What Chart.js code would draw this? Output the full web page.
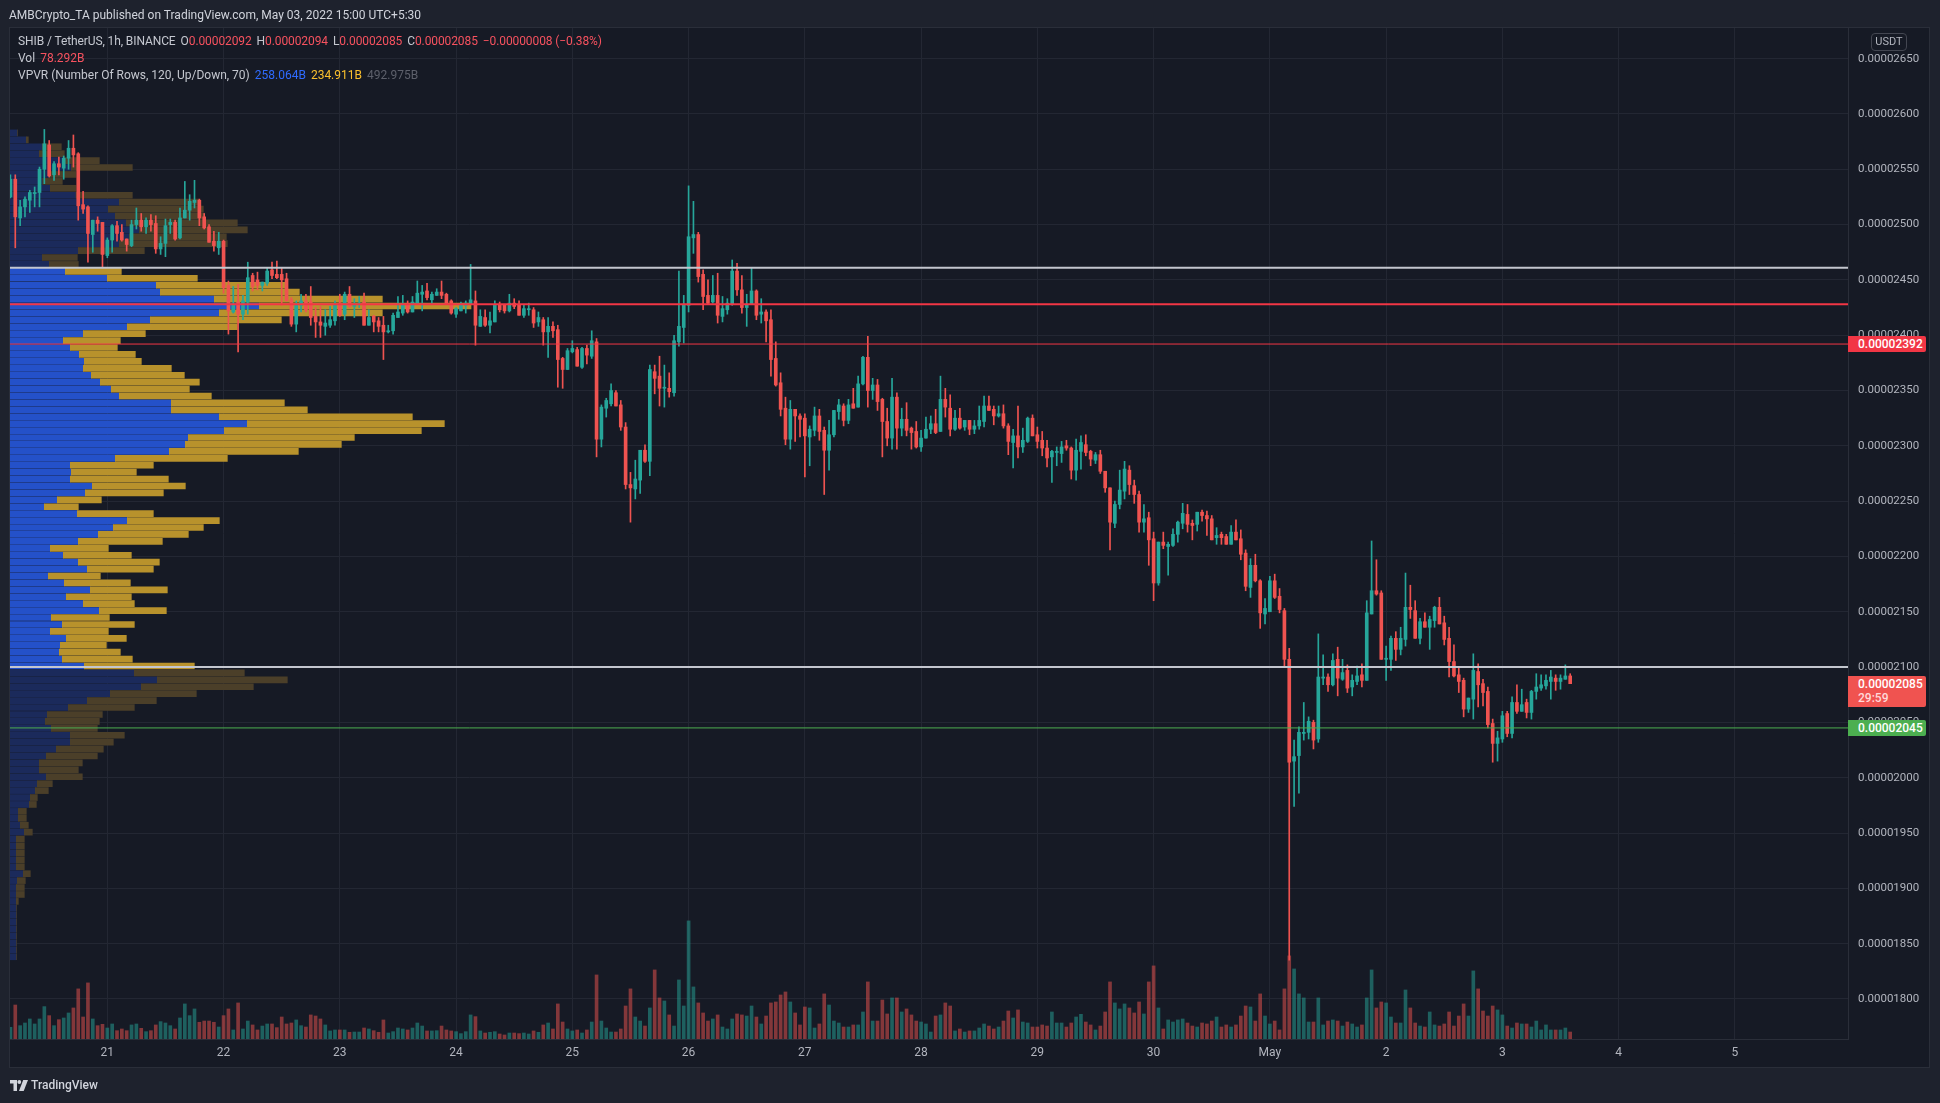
<!DOCTYPE html>
<html>
<head>
<meta charset="utf-8">
<title>SHIB / TetherUS 1h</title>
<script src="https://cdn.jsdelivr.net/npm/chart.js@4.4.1/dist/chart.umd.min.js"></script>
<style>
  html, body { margin:0; padding:0; width:1940px; height:1103px; overflow:hidden; background:#1e222d;
    font-family: Roboto, "Liberation Sans", "DejaVu Sans", sans-serif; }
  #stage { position:relative; width:1940px; height:1103px; }
  #c { position:absolute; left:0; top:0; }
  .txt { position:absolute; white-space:nowrap; font-size:12px; line-height:14px; }
  .red { color:#f7525f; }
  .gap { margin-left:5px; }
  .tag { position:absolute; left:1848px; width:78px; box-sizing:border-box; padding-left:10px; color:#fff;
    font-size:12px; line-height:16px; height:16px; border-radius:0 2px 2px 0; white-space:nowrap; font-weight:500; }
  #usdt { position:absolute; left:1871px; top:33px; width:36px; height:18px; box-sizing:border-box; border:1px solid #434651;
    border-radius:4px; color:#b2b5be; font-size:11px; line-height:16px; text-align:center; }
  #logo { position:absolute; left:10px; top:1078px; height:14px; display:flex; align-items:center; color:#d1d4dc; font-size:12px; font-weight:500; }
</style>
</head>
<body>
<div id="stage">
  <canvas id="c" width="1940" height="1103"></canvas>

  <div class="txt" style="left:9px;top:8px;color:#d1d4dc;">AMBCrypto_TA published on TradingView.com, May 03, 2022 15:00 UTC+5:30</div>

  <div class="txt" style="left:18px;top:34px;color:#c5c8d0;letter-spacing:-0.1px;">SHIB / TetherUS, 1h, BINANCE<span class="gap">O</span><span class="red">0.00002092</span><span class="gap">H</span><span class="red">0.00002094</span><span class="gap">L</span><span class="red">0.00002085</span><span class="gap">C</span><span class="red">0.00002085</span><span class="gap red">−0.00000008 (−0.38%)</span></div>
  <div class="txt" style="left:18px;top:51px;color:#c5c8d0;">Vol<span class="gap red">78.292B</span></div>
  <div class="txt" style="left:18px;top:68px;color:#c5c8d0;">VPVR (Number Of Rows, 120, Up/Down, 70)<span class="gap" style="color:#2f6bff">258.064B</span><span class="gap" style="color:#fbc02d">234.911B</span><span class="gap" style="color:#5d606b">492.975B</span></div>

  <div id="usdt">USDT</div>

  <div class="tag" id="tagLevel" style="background:#f23645;">0.00002392</div>
  <div class="tag" id="tagLast" style="background:#f05350;height:31px;line-height:14px;padding-top:1px;">0.00002085<br><span style="color:#ffd9d9;">29:59</span></div>
  <div class="tag" id="tagSupport" style="background:#4caf50;">0.00002045</div>

  <div id="logo">
    <svg width="18" height="11" viewBox="0 0 18 11" style="margin-right:3px">
      <path d="M0 0h7v11H3.5V3.5H0z" fill="#d1d4dc"/>
      <circle cx="9.3" cy="2" r="1.9" fill="#d1d4dc"/>
      <path d="M13.2 0H18l-4.3 11H9z" fill="#d1d4dc"/>
    </svg>TradingView</div>
</div>

<script>
// ===================== DATA =====================
// Prices are in units of 1e-8 USDT (2525 = 0.00002525). Volumes in billions of SHIB.
// Candles are hourly; the first candle is 20 hours before 21 Apr 00:00 (UTC+5:30).
const FIRST_HOUR = -20;

const opens = [
  2525,2541,2506,2516,2522,2528,2529,2550,2572,2545,
  2555,2551,2560,2569,2564,2518,2516,2491,2504,2502,
  2472,2486,2499,2493,2487,2481,2500,2504,2498,2504,
  2501,2478,2483,2500,2502,2488,2506,2513,2520,2522,
  2507,2498,2485,2479,2485,2445,2421,2430,2419,2430,
  2454,2450,2445,2447,2459,2455,2455,2451,2432,2410,
  2427,2431,2430,2417,2412,2408,2409,2413,2429,2419,
  2437,2426,2428,2430,2409,2417,2413,2409,2403,2404,
  2416,2420,2428,2421,2429,2437,2440,2432,2436,2439,
  2437,2431,2419,2422,2427,2428,2431,2408,2416,2409,
  2412,2427,2427,2422,2429,2427,2418,2423,2423,2412,
  2414,2403,2408,2405,2379,2369,2385,2387,2371,2388,
  2381,2394,2306,2334,2338,2348,2337,2317,2265,2261,
  2269,2296,2286,2367,2363,2352,2352,2348,2394,2407,
  2427,2488,2491,2455,2436,2430,2436,2417,2423,2428,
  2458,2441,2425,2428,2440,2419,2421,2414,2379,2357,
  2334,2306,2333,2327,2325,2308,2314,2327,2314,2296,
  2310,2331,2336,2323,2338,2335,2356,2380,2350,2355,
  2342,2322,2307,2344,2316,2324,2316,2313,2299,2307,
  2315,2320,2313,2342,2334,2315,2325,2317,2323,2315,
  2318,2322,2336,2333,2327,2329,2318,2303,2309,2299,
  2304,2325,2310,2305,2298,2290,2294,2293,2300,2298,
  2278,2295,2301,2295,2287,2292,2277,2262,2230,2247,
  2259,2278,2264,2256,2231,2235,2216,2176,2213,2209,
  2210,2220,2230,2238,2230,2229,2240,2237,2234,2217,
  2220,2218,2211,2222,2216,2203,2172,2192,2178,2148,
  2150,2178,2164,2151,2107,2015,2020,2040,2041,2050,
  2035,2090,2091,2084,2107,2089,2097,2082,2087,2093,
  2088,2148,2169,2167,2107,2107,2126,2116,2125,2154,
  2151,2126,2141,2136,2142,2154,2140,2126,2105,2093,
  2088,2062,2071,2096,2085,2078,2049,2031,2035,2058,
  2040,2068,2060,2068,2059,2078,2081,2083,2087,2090,
  2087,2089,2092
];
const highs = [
  2545,2545,2522,2525,2531,2534,2552,2586,2576,2557,
  2561,2562,2576,2581,2565,2530,2517,2504,2507,2502,
  2488,2500,2503,2500,2487,2504,2515,2510,2506,2509,
  2508,2489,2505,2505,2504,2515,2539,2527,2540,2523,
  2510,2500,2494,2493,2486,2449,2444,2446,2436,2466,
  2456,2457,2448,2461,2466,2467,2461,2456,2434,2431,
  2437,2437,2444,2425,2426,2423,2426,2431,2437,2439,
  2444,2433,2435,2438,2423,2418,2416,2417,2409,2420,
  2435,2436,2431,2435,2449,2445,2447,2439,2442,2449,
  2438,2432,2425,2430,2431,2464,2440,2423,2423,2421,
  2431,2430,2428,2437,2433,2431,2427,2429,2425,2421,
  2416,2416,2412,2409,2380,2388,2395,2389,2389,2391,
  2404,2397,2337,2343,2356,2350,2341,2321,2276,2287,
  2296,2301,2373,2373,2381,2373,2366,2400,2458,2436,
  2535,2521,2493,2459,2450,2454,2456,2435,2433,2468,
  2465,2454,2437,2461,2441,2433,2423,2423,2394,2366,
  2344,2341,2333,2329,2329,2318,2335,2333,2317,2323,
  2332,2342,2338,2342,2352,2363,2381,2399,2361,2360,
  2343,2334,2361,2348,2334,2339,2317,2322,2314,2326,
  2327,2333,2363,2352,2346,2332,2334,2323,2323,2323,
  2336,2345,2345,2336,2336,2337,2320,2315,2336,2316,
  2326,2328,2317,2313,2305,2296,2299,2304,2305,2299,
  2306,2309,2310,2296,2294,2296,2277,2262,2250,2278,
  2286,2282,2269,2259,2247,2240,2222,2213,2222,2213,
  2225,2232,2248,2247,2233,2240,2242,2241,2237,2226,
  2222,2220,2228,2233,2224,2206,2198,2202,2179,2162,
  2182,2184,2171,2153,2117,2034,2046,2068,2055,2052,
  2130,2111,2094,2112,2118,2107,2102,2093,2101,2103,
  2160,2214,2197,2169,2119,2128,2132,2136,2185,2174,
  2160,2144,2149,2146,2155,2163,2146,2136,2120,2100,
  2090,2072,2112,2103,2089,2082,2053,2042,2060,2060,
  2073,2084,2080,2071,2079,2094,2093,2093,2097,2093,
  2093,2102,2094
];
const lows = [
  2524,2479,2499,2507,2511,2516,2516,2537,2543,2540,
  2545,2541,2550,2552,2504,2510,2466,2475,2494,2461,
  2470,2475,2485,2485,2476,2480,2496,2494,2492,2494,
  2474,2473,2471,2492,2486,2487,2506,2504,2515,2499,
  2496,2484,2476,2473,2438,2401,2420,2385,2414,2419,
  2440,2441,2440,2445,2451,2451,2427,2431,2408,2403,
  2421,2421,2409,2398,2398,2400,2407,2409,2417,2414,
  2425,2416,2425,2409,2409,2403,2403,2378,2402,2401,
  2416,2418,2420,2421,2428,2422,2432,2428,2436,2433,
  2428,2419,2416,2422,2420,2428,2391,2408,2408,2402,
  2412,2421,2420,2421,2424,2418,2416,2418,2407,2408,
  2391,2380,2398,2353,2352,2369,2384,2372,2370,2374,
  2379,2290,2299,2326,2336,2336,2314,2261,2231,2252,
  2257,2285,2273,2347,2336,2335,2344,2345,2390,2393,
  2421,2474,2448,2423,2428,2429,2411,2412,2419,2427,
  2436,2420,2408,2428,2414,2411,2394,2363,2354,2327,
  2301,2297,2304,2308,2272,2282,2309,2305,2256,2278,
  2308,2324,2318,2320,2334,2335,2355,2335,2342,2332,
  2290,2300,2297,2297,2309,2309,2297,2298,2295,2307,
  2311,2311,2313,2326,2309,2314,2315,2314,2310,2311,
  2315,2317,2332,2319,2326,2316,2292,2280,2289,2294,
  2303,2309,2298,2291,2281,2267,2282,2285,2296,2270,
  2269,2279,2291,2282,2284,2275,2258,2206,2226,2243,
  2252,2256,2248,2222,2222,2192,2160,2174,2207,2183,
  2209,2213,2225,2222,2215,2223,2232,2219,2215,2211,
  2211,2211,2211,2215,2197,2169,2163,2177,2135,2139,
  2150,2162,2149,2101,1835,1974,1986,2034,2035,2026,
  2032,2084,2078,2083,2074,2088,2077,2074,2084,2082,
  2088,2148,2165,2107,2088,2097,2106,2111,2119,2144,
  2126,2121,2136,2116,2136,2139,2120,2091,2091,2077,
  2055,2059,2053,2064,2065,2045,2014,2015,2032,2037,
  2036,2058,2060,2054,2053,2071,2079,2080,2071,2079,
  2080,2089,2085
];
const closes = [
  2541,2507,2516,2523,2529,2529,2550,2573,2544,2555,
  2552,2560,2569,2563,2517,2514,2492,2504,2501,2473,
  2486,2499,2492,2486,2482,2500,2504,2498,2504,2500,
  2478,2483,2499,2502,2487,2506,2513,2521,2522,2506,
  2497,2484,2481,2485,2443,2422,2428,2419,2431,2452,
  2444,2445,2448,2458,2454,2452,2450,2431,2410,2427,
  2431,2423,2416,2412,2409,2411,2414,2428,2418,2437,
  2426,2428,2429,2409,2416,2412,2408,2403,2404,2418,
  2421,2428,2421,2430,2438,2439,2434,2437,2439,2436,
  2429,2420,2424,2427,2429,2432,2409,2417,2409,2413,
  2427,2423,2422,2429,2426,2418,2424,2424,2411,2416,
  2403,2408,2404,2378,2369,2386,2388,2372,2388,2382,
  2395,2306,2335,2341,2350,2336,2317,2265,2262,2270,
  2296,2286,2369,2361,2352,2353,2349,2395,2408,2428,
  2489,2491,2453,2435,2429,2436,2418,2424,2429,2458,
  2441,2425,2428,2440,2418,2421,2413,2378,2355,2333,
  2306,2333,2327,2324,2309,2315,2327,2313,2296,2310,
  2332,2337,2323,2337,2334,2356,2380,2350,2355,2340,
  2322,2307,2344,2316,2324,2314,2312,2299,2307,2315,
  2320,2312,2342,2335,2315,2325,2316,2323,2315,2318,
  2323,2336,2332,2327,2329,2318,2304,2309,2299,2305,
  2325,2309,2304,2298,2289,2295,2295,2299,2298,2278,
  2296,2303,2294,2288,2292,2277,2262,2231,2247,2260,
  2279,2265,2256,2231,2234,2215,2176,2213,2210,2211,
  2220,2231,2239,2229,2228,2240,2237,2234,2215,2219,
  2217,2211,2222,2215,2202,2173,2192,2178,2149,2153,
  2178,2163,2152,2107,2014,2019,2041,2041,2051,2034,
  2091,2091,2084,2106,2090,2095,2081,2088,2092,2088,
  2149,2169,2166,2107,2108,2126,2116,2126,2154,2152,
  2126,2141,2136,2143,2154,2139,2125,2105,2092,2087,
  2062,2072,2097,2084,2077,2048,2031,2036,2056,2040,
  2068,2060,2066,2059,2078,2082,2084,2088,2091,2087,
  2090,2092,2085
];
const volumes = [
  131,380,149,179,224,168,224,362,261,149,
  216,235,291,347,560,246,627,224,149,164,
  123,168,93,112,93,157,168,119,82,93,
  157,194,179,149,112,235,392,261,336,187,
  201,201,187,134,261,336,101,403,112,201,
  157,101,145,168,168,127,246,168,179,213,
  149,134,269,257,224,157,90,101,101,101,
  75,78,78,123,112,93,75,213,67,82,
  123,112,101,123,179,145,90,90,93,145,
  101,90,82,60,82,269,250,90,67,75,
  82,56,45,67,67,60,67,56,90,75,
  157,179,112,392,190,112,90,101,67,101,
  190,716,201,123,78,78,112,369,560,246,
  201,145,347,772,459,425,269,145,660,369,
  1320,582,403,291,201,224,269,134,112,224,
  280,269,257,369,246,168,257,403,414,492,
  526,414,291,157,358,347,123,168,504,380,
  201,179,134,134,157,157,302,638,201,201,
  436,280,459,459,302,336,269,201,190,168,
  78,257,269,403,369,90,112,78,90,90,
  123,168,145,112,134,201,313,235,325,190,
  179,134,134,157,145,302,179,179,134,179,
  246,276,190,157,101,145,302,638,403,336,
  392,347,291,414,280,638,817,347,112,213,
  190,213,224,179,145,134,179,168,201,246,
  134,157,134,157,257,369,358,201,504,257,
  168,201,101,560,929,783,504,459,190,190,
  459,157,201,213,201,145,190,168,134,157,
  459,772,347,414,403,246,179,179,548,347,
  179,145,134,302,157,145,168,302,145,257,
  392,257,761,560,313,257,369,325,269,145,
  123,179,168,168,134,201,101,157,101,101,
  101,123,78
];

// Day labels on the time axis (one every 24 hours starting at 21 Apr 00:00)
const dayTickLabels = ['21','22','23','24','25','26','27','28','29','30','May','2','3','4','5'];

// Visible-range volume profile, 120 rows, top row first. Units: 10 M SHIB.
const vpvrUp = [
  22,49,97,88,163,184,118,98,121,198,
  328,295,316,349,388,358,328,205,97,118,
  166,292,439,451,613,748,628,421,352,220,
  160,181,208,223,220,244,271,304,328,484,
  484,628,712,643,535,526,478,316,181,184,
  181,247,226,142,103,202,352,310,265,205,
  121,160,205,232,115,163,241,169,220,268,
  124,157,121,169,151,148,157,223,373,442,
  394,301,232,175,112,106,124,181,181,139,
  109,88,88,109,82,76,61,58,25,25,
  31,43,19,19,19,19,19,40,22,19,
  19,19,19,19,19,19,19,19,19,19
];
const vpvrDown = [
  0,6,57,75,105,183,80,59,77,169,
  240,285,267,333,324,291,324,198,105,87,
  168,270,390,417,504,635,489,393,330,186,
  171,141,168,171,264,279,297,234,276,339,
  408,579,591,591,498,468,387,336,249,195,
  294,279,234,132,102,228,276,270,270,252,
  174,204,243,198,156,198,231,195,153,201,
  174,216,174,180,138,183,210,330,330,390,
  336,258,207,198,165,162,138,162,129,141,
  153,129,117,108,45,39,21,21,24,24,
  24,24,24,24,24,24,24,21,24,24,
  24,6,0,0,0,0,0,0,0,0
];
const valueAreaRows = [20, 77];   // first and last row of the 70 % value area

// Horizontal levels drawn on the chart
const levelPrices = [2461, 2428, 2392, 2100, 2045];

// ===================== BUILD =====================
const PRICE_UNIT = 1e-8;
const hours = opens.map((_, i) => FIRST_HOUR + i);
const isUp = i => closes[i] >= opens[i];

const X_MIN = -20.09, X_MAX = 359.35;
const Y_MIN = 1763.8, Y_MAX = 2677.7;
const VOL_MAX = 11300;
const VPVR_MAX = 5514;

const GREEN = '#26a69a', RED = '#ef5350';
const GREEN_VOL = 'rgba(38,166,154,0.5)', RED_VOL = 'rgba(239,83,80,0.5)';

const wickData = hours.map((h, i) => ({ x: h, y: [lows[i], highs[i]] }));
const bodyData = hours.map((h, i) => ({ x: h, y: [opens[i], closes[i]] }));
const volData  = hours.map((h, i) => ({ x: h, y: volumes[i] }));

const rowCount = vpvrUp.length;
const pTop = Math.max(...highs), pBot = Math.min(...lows);
const rowStep = (pTop - pBot) / rowCount;
const rowPrice = vpvrUp.map((_, k) => pTop - rowStep * (k + 0.5));
const inVA = k => k >= valueAreaRows[0] && k <= valueAreaRows[1];
const vpUpData = rowPrice.map((p, k) => ({ y: p, x: vpvrUp[k] }));
const vpDownData = rowPrice.map((p, k) => ({ y: p, x: [vpvrUp[k], vpvrUp[k] + vpvrDown[k]] }));

const levelStyles = [
  { color: '#c3c6ce', width: 2 },
  { color: '#f23645', width: 2 },
  { color: '#f23645', width: 1 },
  { color: '#c3c6ce', width: 2 },
  { color: '#4caf50', width: 1 }
];
const levelDatasets = levelPrices.map((p, i) => ({
  type: 'line', data: [{ x: X_MIN, y: p }, { x: X_MAX, y: p }],
  borderColor: levelStyles[i].color, borderWidth: levelStyles[i].width,
  pointRadius: 0, xAxisID: 'x', yAxisID: 'y', order: 0
}));

const bgPlugin = {
  id: 'bg',
  beforeDraw(chart) {
    const ctx = chart.ctx;
    ctx.save();
    ctx.fillStyle = '#1e222d';
    ctx.fillRect(0, 0, chart.width, chart.height);
    ctx.fillStyle = '#161a25';
    ctx.fillRect(9, 27, 1921, 1041);
    ctx.strokeStyle = '#2a2e39';
    ctx.lineWidth = 1;
    ctx.strokeRect(9.5, 27.5, 1920, 1040);
    ctx.restore();
  }
};

const tagPlugin = {
  id: 'tags',
  afterRender(chart) {
    const ys = chart.scales.y;
    const place = (id, price, off) => {
      document.getElementById(id).style.top = Math.round(ys.getPixelForValue(price) - off) + 'px';
    };
    place('tagLevel', levelPrices[2], 8);
    place('tagLast', closes[closes.length - 1], 8);
    place('tagSupport', levelPrices[4], 8);
  }
};

Chart.defaults.font.family = 'Roboto, "Liberation Sans", sans-serif';
Chart.defaults.font.size = 12;

const hiddenLinear = (min, max) => ({ type: 'linear', display: false, min, max, offset: false, grid: { offset: false } });

new Chart(document.getElementById('c'), {
  type: 'bar',
  data: {
    datasets: [
      ...levelDatasets,
      { type: 'bar', data: bodyData, xAxisID: 'x', yAxisID: 'y', grouped: false, barThickness: 3, minBarLength: 1,
        backgroundColor: c => isUp(c.dataIndex) ? GREEN : RED, order: 1 },
      { type: 'bar', data: wickData, xAxisID: 'x', yAxisID: 'y', grouped: false, barThickness: 1,
        backgroundColor: c => isUp(c.dataIndex) ? GREEN : RED, order: 2 },
      { type: 'bar', data: volData, xAxisID: 'x', yAxisID: 'yv', grouped: false, barThickness: 3,
        backgroundColor: c => isUp(c.dataIndex) ? GREEN_VOL : RED_VOL, order: 3 },
      { type: 'bar', indexAxis: 'y', data: vpDownData, xAxisID: 'xv', yAxisID: 'yp', grouped: false, barThickness: 6,
        backgroundColor: c => inVA(c.dataIndex) ? '#b8922c' : '#4b3f29', order: 4 },
      { type: 'bar', indexAxis: 'y', data: vpUpData, xAxisID: 'xv', yAxisID: 'yp', grouped: false, barThickness: 6,
        backgroundColor: c => inVA(c.dataIndex) ? '#2451c9' : '#1b2a5b', order: 5 }
    ]
  },
  options: {
    responsive: false,
    devicePixelRatio: 1,
    animation: false,
    events: [],
    layout: { padding: { left: 10, top: 28, right: 10, bottom: 36 } },
    plugins: { legend: { display: false }, tooltip: { enabled: false } },
    scales: {
      x: {
        type: 'linear', position: 'bottom', min: X_MIN, max: X_MAX, offset: false,
        afterFit(s) { s.height = 28; },
        grid: { color: '#232733', drawTicks: false, offset: false },
        border: { display: true, color: '#2a2e39' },
        ticks: {
          stepSize: 24, includeBounds: false, autoSkip: false, maxRotation: 0, color: '#b2b5be', padding: 7,
          callback: v => { const k = Math.round(v / 24); return (k >= 0 && k < dayTickLabels.length) ? dayTickLabels[k] : ''; }
        }
      },
      y: {
        type: 'linear', position: 'right', min: Y_MIN, max: Y_MAX, offset: false,
        afterFit(s) { s.width = 82; },
        grid: { color: '#232733', drawTicks: false, offset: false },
        border: { display: true, color: '#2a2e39' },
        ticks: {
          stepSize: 50, includeBounds: false, color: '#b2b5be', padding: 10, font: { size: 11.5 },
          callback: v => (v * PRICE_UNIT).toFixed(8)
        }
      },
      yp: hiddenLinear(Y_MIN, Y_MAX),
      yv: hiddenLinear(0, VOL_MAX),
      xv: hiddenLinear(0, VPVR_MAX)
    }
  },
  plugins: [bgPlugin, tagPlugin]
});
</script>
</body>
</html>
